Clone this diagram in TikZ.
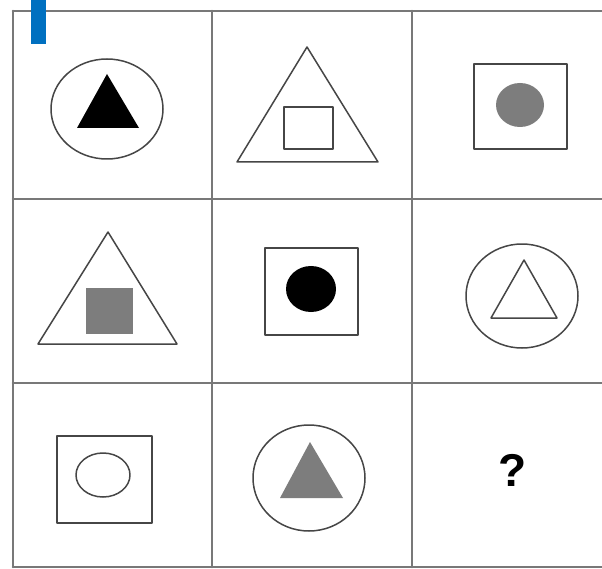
\documentclass[tikz,border=0pt]{standalone}
\usepackage{fontspec}
\setmainfont{Liberation Sans}
\usepackage{tikz}
\usetikzlibrary{calc}
\definecolor{puzzleblue}{RGB}{0,112,192}
\definecolor{puzzlegrid}{RGB}{120,120,120}
\definecolor{puzzleline}{RGB}{70,70,70}
\definecolor{puzzlegray}{RGB}{125,125,125}

\begin{document}
\begin{tikzpicture}[x=1pt,y=-1pt,line cap=round,line join=round,
  gridline/.style={puzzlegrid,line width=2.6pt},
  shapeline/.style={puzzleline,line width=1.5pt}]
 \useasboundingbox (0,0) rectangle (602,569);
 \fill[white] (0,0) rectangle (602,569);
 % grid
 \foreach \y in {11,199,383,567}{\draw[gridline] (13,\y)--(602,\y);}
 \foreach \x in {13,212,412}{\draw[gridline] (\x,11)--(\x,567);}
 \fill[puzzleblue] (31,0) rectangle (46,44);
 % row 1
 \draw[shapeline] (107,109) ellipse (56 and 50);
 \fill[black] (107,74)--(139,128)--(77,128)--cycle;
 \draw[shapeline] (307,47)--(378,162)--(237,162)--cycle;
 \draw[shapeline] (284,107) rectangle (333,149);
 \draw[shapeline] (474,64) rectangle (567,149);
 \fill[puzzlegray] (520,105) ellipse (24 and 22);
 % row 2
 \draw[shapeline] (108,232)--(177,344)--(38,344)--cycle;
 \fill[puzzlegray] (86,288) rectangle (133,334);
 \draw[shapeline] (265,248) rectangle (358,335);
 \fill[black] (311,289) ellipse (25 and 23);
 \draw[shapeline] (522,296) ellipse (56 and 52);
 \draw[shapeline] (524,260)--(557,318)--(491,318)--cycle;
 % row 3
 \draw[shapeline] (57,436) rectangle (152,523);
 \draw[shapeline] (103,475) ellipse (27 and 22);
 \draw[shapeline] (309,478) ellipse (56 and 53);
 \fill[puzzlegray] (310,442)--(343,498)--(280,498)--cycle;
 \node[font=\fontsize{46}{46}\selectfont\bfseries] (ask) at (513,470) {?};
\end{tikzpicture}
\end{document}
